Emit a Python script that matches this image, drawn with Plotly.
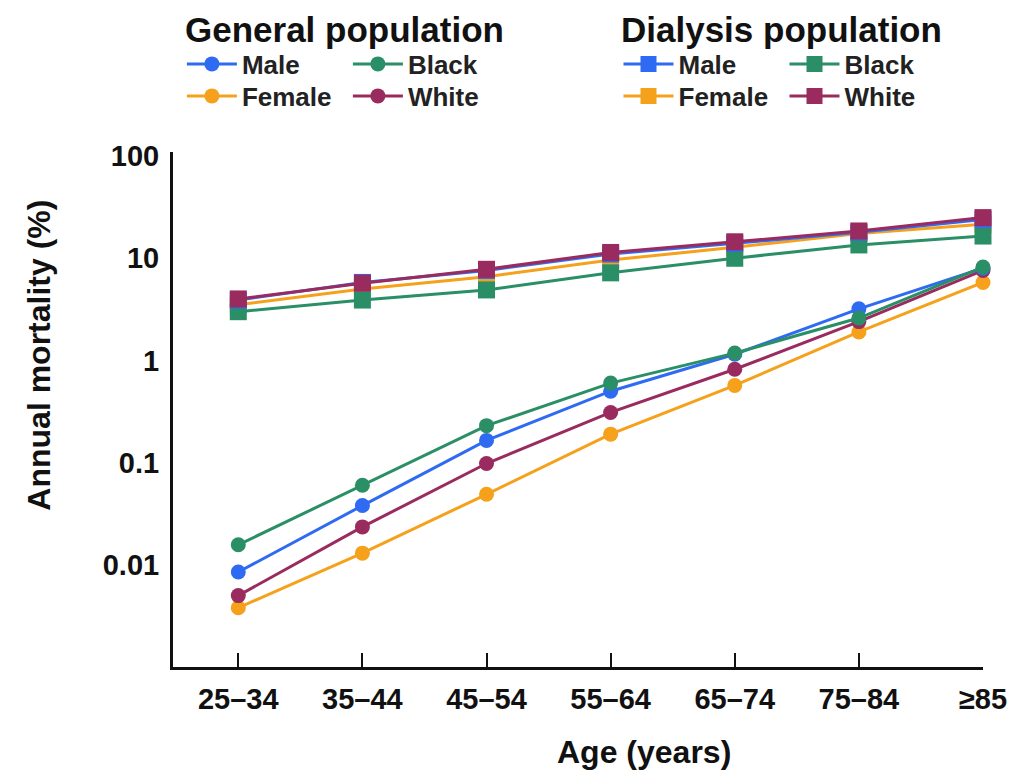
import plotly.graph_objects as go

ages = ["25–34", "35–44", "45–54", "55–64", "65–74", "75–84", "≥85"]

# General population (annual mortality, %)
gen_male = [0.0085, 0.038, 0.165, 0.50, 1.15, 3.2, 8.0]
gen_female = [0.0038, 0.013, 0.049, 0.19, 0.57, 1.9, 5.8]
gen_black = [0.0157, 0.060, 0.23, 0.60, 1.18, 2.6, 8.2]
gen_white = [0.0050, 0.0235, 0.098, 0.31, 0.82, 2.4, 7.6]

# Dialysis population (annual mortality, %)
dia_male = [3.9, 5.8, 7.6, 11.0, 14.0, 18.0, 24.0]
dia_female = [3.5, 5.0, 6.6, 9.6, 12.8, 17.5, 21.5]
dia_black = [3.0, 3.9, 4.9, 7.2, 10.0, 13.5, 16.5]
dia_white = [4.0, 5.7, 7.8, 11.4, 14.5, 18.5, 25.0]

ytick_vals = [0.01, 0.1, 1, 10, 100]
ytick_text = ["0.01", "0.1", "1", "10", "100"]

BLUE = "#2f6bf2"
GREEN = "#2a8f66"
ORANGE = "#f5a11c"
MAROON = "#9a2b5e"

FONT = "Liberation Sans, Arial, sans-serif"

# page body margin offset (figure is drawn at 8,8 in the page)
OFF = 8
# plot area in target (window) pixels
L0, R0, T0, B0 = 173, 993, 152, 667
W, H = 1019 - OFF, 776 - OFF
L, R, T, B = L0 - OFF, R0 - OFF, T0 - OFF, B0 - OFF


def px_x(p):
    return (p - OFF - L) / (R - L)


def px_y(p):
    return (B - (p - OFF)) / (B - T)


fig = go.Figure()

# (name, values, color, symbol, legend, rank)
series = [
    ("Female", dia_female, ORANGE, "square", "legend4", 1),
    ("Black", dia_black, GREEN, "square", "legend3", 2),
    ("Male", dia_male, BLUE, "square", "legend3", 1),
    ("White", dia_white, MAROON, "square", "legend4", 2),
    ("Female", gen_female, ORANGE, "circle", "legend2", 1),
    ("White", gen_white, MAROON, "circle", "legend2", 2),
    ("Male", gen_male, BLUE, "circle", "legend", 1),
    ("Black", gen_black, GREEN, "circle", "legend", 2),
]

for name, vals, col, sym, leg, rank in series:
    fig.add_trace(
        go.Scatter(
            x=ages,
            y=vals,
            name=name,
            mode="lines+markers",
            line=dict(color=col, width=3),
            marker=dict(color=col, symbol=sym, size=17 if sym == "square" else 15),
            legend=leg,
            legendrank=rank,
            cliponaxis=False,
        )
    )

leg_common = dict(
    orientation="h",
    xanchor="left",
    yanchor="middle",
    bgcolor="rgba(0,0,0,0)",
    font=dict(family=FONT, size=26, color="#222", weight="bold"),
    entrywidth=101,
    entrywidthmode="pixels",
    itemwidth=50,
    traceorder="normal",
)

fig.update_layout(
    width=W,
    height=H,
    margin=dict(l=L, r=W - R, t=T, b=H - B, pad=0),
    paper_bgcolor="white",
    plot_bgcolor="white",
    showlegend=True,
    legend=dict(x=px_x(182), y=px_y(64), **leg_common),
    legend2=dict(x=px_x(182), y=px_y(96), **leg_common),
    legend3=dict(x=px_x(624), y=px_y(64), **leg_common),
    legend4=dict(x=px_x(624), y=px_y(96), **leg_common),
    xaxis=dict(
        type="category",
        range=[-0.526, 6.0],
        showline=True,
        linecolor="#111",
        linewidth=3,
        ticks="inside",
        ticklen=14,
        tickwidth=2,
        tickcolor="#111",
        showgrid=False,
        zeroline=False,
        tickfont=dict(family=FONT, size=29, color="#111", weight="bold"),
        ticklabelstandoff=4,
    ),
    yaxis=dict(
        type="log",
        range=[-3, 2.04],
        showline=True,
        linecolor="#111",
        linewidth=3,
        ticks="",
        showgrid=False,
        zeroline=False,
        tickvals=ytick_vals,
        ticktext=ytick_text,
        tickfont=dict(family=FONT, size=29, color="#111", weight="bold"),
        ticklabelstandoff=5,
    ),
    annotations=[
        dict(
            text="General population",
            xref="paper", yref="paper",
            x=px_x(183), y=px_y(8),
            xanchor="left", yanchor="top",
            showarrow=False,
            font=dict(family=FONT, size=35, color="#111", weight="bold"),
        ),
        dict(
            text="Dialysis population",
            xref="paper", yref="paper",
            x=px_x(624), y=px_y(8),
            xanchor="left", yanchor="top",
            showarrow=False,
            font=dict(family=FONT, size=35, color="#111", weight="bold"),
        ),
        dict(
            text="Age (years)",
            xref="paper", yref="paper",
            x=px_x(650), y=px_y(752),
            xanchor="center", yanchor="middle",
            showarrow=False,
            font=dict(family=FONT, size=32, color="#111", weight="bold"),
        ),
        dict(
            text="Annual mortality (%)",
            xref="paper", yref="paper",
            x=px_x(37), y=px_y(355),
            xanchor="center", yanchor="middle",
            textangle=-90,
            showarrow=False,
            font=dict(family=FONT, size=32, color="#111", weight="bold"),
        ),
    ],
)

fig.write_html("out.html")
